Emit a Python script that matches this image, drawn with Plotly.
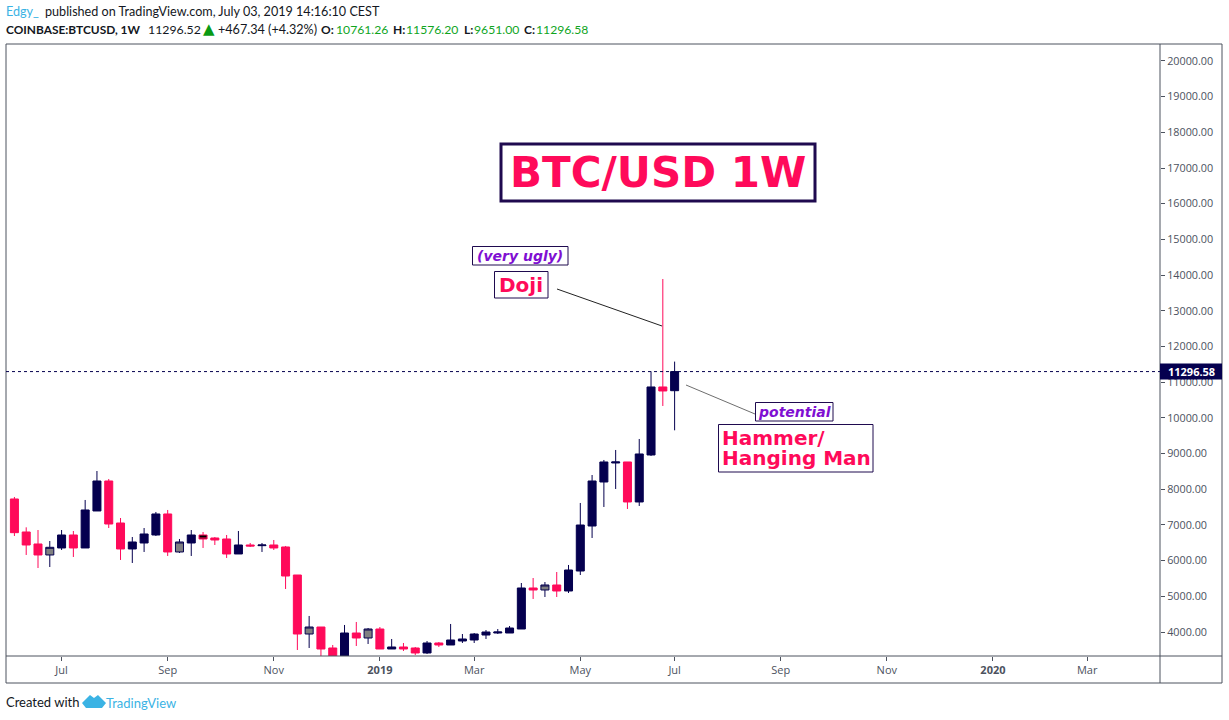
import plotly.graph_objects as go
import pandas as pd

week_start = "2018-06-04"
opens = [7727,6802,6466,6158,6354,6718,6354,7391,8231,7054,6326,6494,6718,7307,6242,6494,6718,6634,6606,6186,6438,6419,6438,6382,5597,3944,4140,3552,3200,3972,3832,4084,3524,3580,3552,3412,3692,3636,3748,3776,3916,3972,3972,4084,5233,5177,5317,5149,5709,6970,8203,8736,8764,7643,8960,10865,10761.26]
highs = [7783,6933,6858,6550,6858,6830,7699,8511,8287,7194,6662,6914,7363,7419,6606,6858,6802,6662,6718,6830,6494,6494,6578,6410,5597,4449,4140,3636,4197,4281,4112,4140,3804,3692,3580,3748,3720,4225,3944,3972,4056,4084,4168,5373,5513,5401,5681,5878,7615,8399,8820,9100,8764,9408,11304,13891,11576.20]
lows = [6690,6158,5793,5821,6298,6102,6354,7391,6914,6018,5934,6242,6690,6130,6214,6130,6354,6438,6074,6186,6382,6242,6298,5205,3496,3552,3250,3120,3150,3608,3664,3524,3524,3468,3356,3384,3580,3636,3692,3692,3804,3944,3972,4084,4925,4981,4981,5093,5597,6634,7503,8007,7447,7531,8932,10333,9651.00]
closes = [6783,6438,6158,6373,6718,6354,7419,8231,7026,6326,6522,6746,7307,6242,6522,6718,6606,6578,6186,6438,6410,6438,6354,5569,3944,4140,3524,3200,3972,3832,4084,3524,3580,3524,3412,3692,3636,3776,3804,3944,4000,4000,4112,5233,5177,5317,5149,5737,6998,8231,8764,8764,7643,8988,10865,10753,11296.58]
gray_weeks = [3, 14, 25, 30, 45]
black_weeks = [16]

x_tick_dates = ["2018-07-02","2018-09-03","2018-11-05","2019-01-07","2019-03-04","2019-05-06","2019-07-01","2019-09-02","2019-11-04","2020-01-06","2020-03-02"]
x_tick_text = ["Jul","Sep","Nov","<b>2019</b>","Mar","May","Jul","Sep","Nov","<b>2020</b>","Mar"]
y_ticks = list(range(4000, 20001, 1000))
last_price = 11296.58

NAVY = "#05004f"
PINK = "#ff0a5a"
PURPLE = "#7f0fd2"
BOXC = "#1f0a4f"
AXIS = "#4c525e"
GREEN = "#0fa51e"
BLUE = "#3bb3e4"

dates = pd.date_range(week_start, periods=len(opens), freq="7D")
L, T, R, B = 6, 44, 1160, 656
px = lambda v: (v - L) / (R - L)
py = lambda v: (B - v) / (B - T)

def subset(idx):
    return dict(x=[dates[i] for i in idx], open=[opens[i] for i in idx], high=[highs[i] for i in idx],
                low=[lows[i] for i in idx], close=[closes[i] for i in idx])

def candle(idx, upfill, downfill):
    return go.Candlestick(**subset(idx), showlegend=False, hoverinfo="skip",
                          increasing=dict(line=dict(color=NAVY, width=1), fillcolor=upfill),
                          decreasing=dict(line=dict(color=PINK, width=1), fillcolor=downfill),
                          whiskerwidth=0)

special = set(gray_weeks) | set(black_weeks)
normal = [i for i in range(len(opens)) if i not in special]
fig = go.Figure([candle(normal, NAVY, PINK), candle(gray_weeks, "#808080", "#808080"), candle(black_weeks, "#000000", "#000000")])

shapes = []
def frame(x0, y0, x1, y1, color=AXIS, width=1, fill=None, dash=None):
    s = dict(type="rect" if fill else "line", xref="paper", yref="paper", x0=px(x0), x1=px(x1), y0=py(y0), y1=py(y1),
             line=dict(color=color, width=width, dash=dash or "solid"))
    if fill:
        s["fillcolor"] = fill
    shapes.append(s)

# outer chart frame
frame(6, 44, 1222, 44); frame(6, 683, 1222, 683); frame(6, 44, 6, 683); frame(1222, 44, 1222, 683)
frame(1160, 44, 1160, 683); frame(6, 656, 1222, 656)

# last-price line
shapes.append(dict(type="line", xref="paper", yref="y", x0=0, x1=1, y0=last_price, y1=last_price,
                   line=dict(color=NAVY, width=1, dash="dot")))

# callout lines and boxes
frame(557, 289, 662, 326, color="#222222")
frame(686, 385, 755, 414, color="#6e6e6e")
frame(501, 144, 815, 201, color=BOXC, width=3, fill="#ffffff")
frame(472.5, 246.5, 568, 265, color=BOXC, width=1, fill="#ffffff")
frame(494.5, 271.5, 548, 298, color=BOXC, width=1, fill="#ffffff")
frame(755.5, 402.5, 833, 421, color=BOXC, width=1, fill="#ffffff")
frame(718.5, 424.5, 873, 472, color=BOXC, width=1, fill="#ffffff")

# TradingView logo
logo = [(82,703),(90,695),(94,698),(98,695),(106,703),(102,708),(86,708)]
shapes.append(dict(type="path", xref="paper", yref="paper", fillcolor=BLUE, line=dict(width=0),
                   path="M" + " L".join(f"{px(a):.5f},{py(b):.5f}" for a, b in logo) + " Z"))

def note(x, y, text, color="#000000", size=13, family="Lato", anchor="left", bg=None):
    fig.add_annotation(xref="paper", yref="paper", x=px(x), y=py(y), text=text, showarrow=False, xanchor=anchor,
                       yanchor="middle", align=anchor if anchor != "center" else "center",
                       font=dict(color=color, size=size, family=family), bgcolor=bg, borderpad=0, borderwidth=0)

DV = "DejaVu Sans"
note(658, 172, "<b>BTC/USD 1W</b>", PINK, 42, DV, "center")
note(520, 256, "<b><i>(very ugly)</i></b>", PURPLE, 14, DV, "center")
note(521, 285, "<b>Doji</b>", PINK, 20, DV, "center")
note(794, 412, "<b><i>potential</i></b>", PURPLE, 14, DV, "center")
note(722, 438, "<b>Hammer/</b>", PINK, 20, DV)
note(722, 458, "<b>Hanging Man</b>", PINK, 20, DV)

note(6, 12, "Edgy_", BLUE, 12.6)
note(45, 12, "published on TradingView.com, July 03, 2019 14:16:10 CEST", "#131722", 12.6)
note(6, 29, "<b>COINBASE:BTCUSD, 1W</b>", "#131722", 11.9)
note(148, 29, "11296.52", "#131722", 12.3)
note(203, 29, "▲", "#0a9a14", 15, DV)
note(218, 29, "+467.34 (+4.32%)", "#131722", 12.6)
for lab, lx, val, vx in [("O:",321,"10761.26",336),("H:",393,"11576.20",406),("L:",464,"9651.00",474),("C:",524,"11296.58",536)]:
    note(lx, 29, f"<b>{lab}</b>", "#131722", 12)
    note(vx, 29, val, GREEN, 12.2)
note(6, 702, "Created with", "#131722", 13)
note(106, 703, "TradingView", BLUE, 13)

# last-price label
shapes.append(dict(type="rect", xref="paper", yref="y", x0=px(1160), x1=px(1222), y0=last_price-225, y1=last_price+225,
                   fillcolor=NAVY, line=dict(width=0)))
fig.add_annotation(xref="paper", yref="y", x=px(1191), y=last_price, text="<b>11296.58</b>", showarrow=False,
                   font=dict(color="#ffffff", size=11, family="Open Sans"), xanchor="center", yanchor="middle")

fig.update_layout(width=1229, height=720, margin=dict(l=L, r=1229-R, t=T, b=720-B, autoexpand=False),
                  paper_bgcolor="#ffffff", plot_bgcolor="#ffffff", shapes=shapes, showlegend=False, dragmode=False,
                  boxgap=0.32, boxgroupgap=0,
                  font=dict(family="Open Sans", color=AXIS, size=11),
                  xaxis=dict(type="date", range=["2018-05-30", "2020-04-14 05:00"], rangeslider=dict(visible=False),
                             tickmode="array", tickvals=x_tick_dates, ticktext=x_tick_text, ticks="outside", ticklen=4,
                             tickcolor=AXIS, showgrid=False, zeroline=False, showline=False,
                             tickfont=dict(size=11, color=AXIS, family="Open Sans")),
                  yaxis=dict(range=[3327.5, 20475], side="right", tickmode="array", tickvals=y_ticks, ticks="outside",
                             ticklen=4, tickcolor=AXIS, tickformat=".2f", showgrid=False, zeroline=False, showline=False,
                             tickfont=dict(size=10.8, color=AXIS, family="Open Sans")))

fig.write_html("out.html", config=dict(displayModeBar=False, responsive=False),
               post_script="document.body.style.margin='0';")
